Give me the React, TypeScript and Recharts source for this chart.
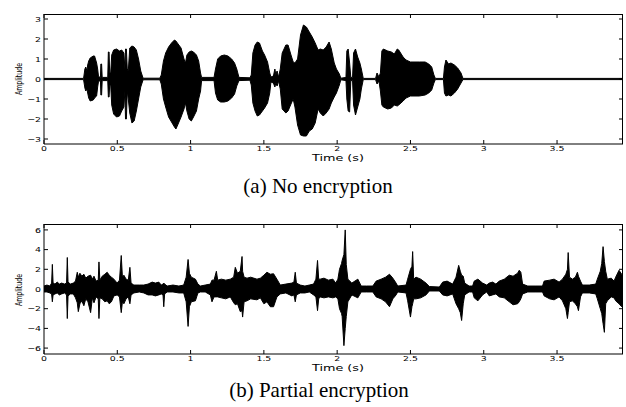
import React from 'react';
import { ComposedChart, Area, XAxis, YAxis } from 'recharts';

// envelope of the waveform (upper / lower amplitude)
const noEncTime = [
  0, 0.27, 0.279, 0.285, 0.293, 0.298, 0.305, 0.315, 0.336, 0.345,
  0.359, 0.366, 0.372, 0.385, 0.388, 0.393, 0.397, 0.435, 0.439, 0.444,
  0.448, 0.455, 0.462, 0.475, 0.495, 0.515, 0.53, 0.545, 0.552, 0.556,
  0.562, 0.568, 0.575, 0.585, 0.6, 0.615, 0.63, 0.645, 0.66, 0.676,
  0.79, 0.8, 0.815, 0.83, 0.85, 0.87, 0.89, 0.9, 0.915, 0.935,
  0.955, 0.965, 0.975, 0.99, 1.005, 1.02, 1.04, 1.055, 1.068, 1.075,
  1.16, 1.17, 1.185, 1.205, 1.23, 1.255, 1.28, 1.3, 1.315, 1.33,
  1.405, 1.414, 1.425, 1.44, 1.455, 1.47, 1.49, 1.505, 1.525, 1.54,
  1.548, 1.565, 1.575, 1.582, 1.59, 1.6, 1.612, 1.625, 1.65, 1.665,
  1.685, 1.7, 1.712, 1.73, 1.75, 1.77, 1.79, 1.81, 1.83, 1.85,
  1.87, 1.885, 1.905, 1.925, 1.945, 1.96, 1.98, 1.995, 2.015, 2.025,
  2.06, 2.066, 2.075, 2.085, 2.093, 2.105, 2.112, 2.125, 2.14, 2.155,
  2.165, 2.178, 2.262, 2.272, 2.285, 2.295, 2.305, 2.315, 2.345, 2.37,
  2.39, 2.41, 2.42, 2.45, 2.47, 2.5, 2.56, 2.6, 2.625, 2.645,
  2.66, 2.67, 2.725, 2.732, 2.742, 2.76, 2.776, 2.8, 2.822, 2.845,
  2.858, 3.95,
];
const noEncHi = [
  0.03, 0.03, 0.5, 0.6, 0.4, 0.7, 0.9, 1.05, 1.15, 1.15,
  0.8, 0.5, 0.12, 0.08, 0.75, 0.75, 0.08, 0.08, 1.35, 1.35,
  0.3, 0.3, 1.2, 1.45, 1.5, 1.4, 1.45, 1.3, 0.5, 1.5,
  1.5, 0.5, 0.4, 1.55, 1.65, 1.6, 1.45, 1.0, 0.4, 0.04,
  0.04, 0.2, 0.9, 1.3, 1.6, 1.8, 1.95, 1.9, 1.75, 1.55,
  1.0, 0.8, 1.2, 1.35, 1.4, 1.35, 1.2, 0.9, 0.3, 0.08,
  0.08, 0.5, 1.0, 1.15, 1.2, 1.15, 1.0, 0.8, 0.5, 0.08,
  0.06, 0.2, 1.3, 1.7, 1.85, 1.8, 1.4, 1.2, 0.85, 0.3,
  0.1, 0.15, 0.5, 0.2, 0.4, 0.1, 0.5, 1.3, 1.7, 1.7,
  1.2, 0.85, 0.8, 1.0, 2.2, 2.7, 2.6, 2.35, 2.1, 1.8,
  1.45, 1.5, 1.45, 1.6, 1.85, 1.5, 0.8, 0.5, 0.25, 0.04,
  0.08, 1.4, 1.5, 0.8, 0.08, 0.08, 1.3, 1.5, 1.1, 0.8,
  0.5, 0.03, 0.03, 0.3, 0.1, 0.3, 1.4, 1.5, 1.4, 1.35,
  1.25, 1.5, 1.45, 1.1, 0.95, 0.85, 0.85, 0.85, 0.75, 0.6,
  0.2, 0.03, 0.03, 0.6, 0.95, 0.75, 0.8, 0.7, 0.55, 0.3,
  0.03, 0.03,
];
const noEncLo = [
  -0.03, -0.03, -0.45, -0.6, -0.5, -0.7, -0.95, -1.1, -1.05, -0.95,
  -0.85, -0.4, -0.12, -0.08, -0.8, -0.8, -0.08, -0.08, -0.9, -0.9,
  -0.3, -0.3, -1.3, -1.75, -1.9, -1.85, -1.6, -1.4, -0.6, -2.0,
  -2.0, -0.6, -1.0, -1.7, -2.2, -2.1, -1.6, -1.0, -0.4, -0.04,
  -0.04, -0.25, -1.0, -1.4, -1.9, -2.15, -2.4, -2.5, -2.25, -1.9,
  -1.5, -1.2, -1.6, -2.0, -2.1, -1.9, -1.6, -1.0, -0.6, -0.08,
  -0.08, -0.7, -1.05, -1.15, -1.15, -1.1, -0.95, -0.75, -0.35, -0.08,
  -0.06, -0.3, -1.2, -1.6, -1.85, -1.8, -1.6, -1.45, -1.2, -0.7,
  -0.15, -0.2, -0.4, -0.2, -0.35, -0.1, -0.5, -1.5, -1.7, -1.6,
  -1.25, -1.0, -1.4, -2.3, -2.8, -2.85, -2.85, -2.6, -2.5, -2.2,
  -1.5, -1.7, -1.85, -1.7, -1.5, -1.2, -0.9, -0.7, -0.3, -0.04,
  -0.08, -1.0, -1.6, -1.65, -0.08, -0.08, -1.3, -1.8, -1.4, -1.0,
  -0.5, -0.03, -0.03, -0.25, -0.1, -0.6, -1.3, -1.4, -1.5, -1.45,
  -1.3, -1.35, -1.3, -1.1, -0.95, -0.85, -0.85, -0.8, -0.7, -0.55,
  -0.2, -0.03, -0.03, -0.7, -0.85, -0.8, -0.85, -0.7, -0.5, -0.2,
  -0.03, -0.03,
];

const partEncTime = [
  0, 0.02, 0.04, 0.052, 0.057, 0.062, 0.075, 0.09, 0.105, 0.12,
  0.14, 0.154, 0.159, 0.164, 0.18, 0.2, 0.215, 0.227, 0.234, 0.245,
  0.258, 0.272, 0.285, 0.3, 0.318, 0.33, 0.341, 0.355, 0.37, 0.375,
  0.381, 0.397, 0.415, 0.431, 0.445, 0.46, 0.477, 0.499, 0.515, 0.527,
  0.535, 0.545, 0.56, 0.575, 0.586, 0.594, 0.613, 0.65, 0.681, 0.71,
  0.738, 0.76, 0.783, 0.8, 0.812, 0.817, 0.823, 0.84, 0.88, 0.92,
  0.953, 0.97, 0.983, 0.992, 1.005, 1.033, 1.05, 1.067, 1.1, 1.135,
  1.146, 1.16, 1.176, 1.185, 1.21, 1.24, 1.271, 1.294, 1.305, 1.32,
  1.339, 1.351, 1.355, 1.365, 1.385, 1.41, 1.453, 1.476, 1.5, 1.521,
  1.544, 1.566, 1.589, 1.612, 1.65, 1.691, 1.705, 1.714, 1.722, 1.748,
  1.78, 1.81, 1.839, 1.855, 1.866, 1.874, 1.884, 1.91, 1.94, 1.971,
  1.99, 2.005, 2.016, 2.03, 2.034, 2.046, 2.055, 2.062, 2.073, 2.1,
  2.141, 2.164, 2.2, 2.243, 2.266, 2.3, 2.33, 2.357, 2.38, 2.402,
  2.413, 2.47, 2.481, 2.5, 2.51, 2.515, 2.522, 2.538, 2.57, 2.606,
  2.629, 2.697, 2.72, 2.75, 2.788, 2.811, 2.829, 2.84, 2.849, 2.86,
  2.87, 2.9, 2.924, 2.935, 2.96, 2.992, 3.02, 3.038, 3.06, 3.083,
  3.106, 3.14, 3.174, 3.2, 3.231, 3.242, 3.253, 3.265, 3.3, 3.35,
  3.401, 3.412, 3.45, 3.48, 3.514, 3.537, 3.56, 3.571, 3.576, 3.585,
  3.605, 3.625, 3.639, 3.646, 3.66, 3.673, 3.72, 3.764, 3.775, 3.795,
  3.805, 3.814, 3.823, 3.832, 3.843, 3.87, 3.889, 3.9, 3.923, 3.941, 3.95,
];
const partEncHi = [
  0.3, 0.4, 0.3, 0.6, 2.5, 0.6, 0.5, 0.7, 0.5, 0.6,
  0.5, 0.6, 3.2, 0.7, 0.5, 0.6, 0.8, 1.7, 1.2, 1.6,
  1.3, 1.5, 1.1, 1.3, 1.4, 1.0, 1.3, 0.8, 0.9, 2.75,
  0.9, 1.3, 1.5, 1.7, 1.4, 1.2, 1.0, 0.6, 0.9, 3.4,
  1.2, 1.4, 1.0, 0.9, 2.2, 0.6, 0.4, 0.4, 0.4, 0.5,
  0.7, 0.6, 0.7, 0.4, 0.5, 0.6, 0.5, 0.3, 0.4, 0.3,
  0.4, 1.2, 3.0, 1.6, 1.2, 1.0, 0.5, 0.3, 0.4, 0.5,
  0.9, 0.9, 1.8, 0.9, 1.0, 0.9, 1.0, 1.2, 2.2, 1.6,
  1.8, 3.3, 1.8, 1.2, 1.1, 1.2, 1.0, 1.1, 1.4, 1.7,
  1.5, 1.55, 1.0, 0.4, 0.5, 0.6, 0.7, 1.7, 0.6, 0.4,
  0.3, 0.4, 0.5, 1.0, 2.9, 1.0, 1.0, 1.1, 0.9, 1.0,
  0.6, 1.0, 2.0, 2.6, 2.9, 3.5, 6.0, 2.5, 1.0, 0.6,
  1.0, 0.3, 0.3, 0.3, 0.8, 1.0, 1.2, 1.5, 1.1, 0.6,
  0.3, 0.4, 1.0, 2.0, 2.3, 3.8, 1.0, 1.2, 1.0, 0.6,
  0.25, 0.2, 0.7, 0.8, 0.5, 1.2, 2.4, 1.8, 1.4, 1.3,
  0.6, 0.3, 0.3, 0.8, 1.0, 0.6, 0.4, 0.6, 0.7, 0.5,
  0.8, 1.0, 1.4, 1.3, 1.6, 1.9, 1.7, 0.5, 0.3, 0.3,
  0.3, 0.8, 0.9, 1.0, 0.7, 1.0, 1.5, 2.0, 3.7, 1.2,
  1.0, 1.2, 1.7, 1.3, 0.8, 0.4, 0.4, 0.5, 1.0, 1.8,
  2.6, 4.3, 2.8, 1.8, 1.0, 1.1, 0.8, 1.2, 1.9, 1.5, 1.2,
];
const partEncLo = [
  -0.3, -0.3, -0.4, -0.5, -1.3, -0.6, -0.5, -0.4, -0.6, -0.5,
  -0.4, -0.6, -3.0, -0.7, -0.5, -0.5, -0.9, -1.4, -2.3, -1.5,
  -1.2, -1.7, -1.0, -1.3, -2.4, -0.9, -1.4, -0.8, -1.0, -3.0,
  -0.9, -1.0, -1.3, -1.2, -1.5, -1.3, -0.7, -0.6, -0.8, -2.4,
  -1.3, -1.5, -1.0, -0.8, -1.5, -0.6, -0.4, -0.3, -0.4, -0.6,
  -0.6, -0.7, -0.6, -0.5, -0.6, -1.8, -0.5, -0.3, -0.3, -0.4,
  -0.4, -1.3, -3.8, -1.8, -1.3, -1.2, -0.4, -0.3, -0.3, -0.6,
  -1.3, -0.8, -0.8, -0.8, -0.9, -1.0, -0.8, -1.4, -1.6, -1.5,
  -2.3, -2.2, -2.85, -1.3, -1.2, -1.0, -1.1, -0.9, -1.5, -1.3,
  -1.8, -1.8, -0.8, -0.5, -0.4, -0.7, -0.6, -1.3, -0.6, -0.4,
  -0.4, -0.3, -0.6, -0.8, -2.2, -1.0, -0.8, -0.9, -0.8, -0.9,
  -0.8, -1.0, -2.0, -2.5, -2.8, -5.75, -4.0, -2.8, -1.3, -0.6,
  -0.9, -0.3, -0.3, -0.3, -0.8, -1.0, -1.3, -1.8, -1.0, -0.6,
  -0.3, -0.4, -1.2, -2.85, -1.8, -1.5, -1.0, -1.0, -0.9, -0.6,
  -0.2, -0.2, -0.6, -0.7, -0.5, -1.5, -2.0, -2.4, -3.2, -1.5,
  -0.6, -0.3, -0.3, -0.9, -1.2, -0.6, -0.3, -0.7, -0.6, -0.5,
  -0.8, -0.9, -1.3, -1.6, -1.5, -1.3, -1.0, -0.5, -0.3, -0.3,
  -0.3, -0.7, -1.0, -1.1, -0.8, -1.2, -2.0, -3.0, -2.4, -1.3,
  -1.2, -1.5, -1.8, -2.2, -0.8, -0.4, -0.4, -0.5, -1.0, -2.0,
  -2.5, -3.5, -4.4, -1.5, -1.2, -0.8, -0.9, -1.2, -1.5, -1.8, -1.0,
];

const timeTicks = [0, 0.5, 1, 1.5, 2, 2.5, 3, 3.5];
const noEncAmpTicks = [-3, -2, -1, 0, 1, 2, 3];
const partEncAmpTicks = [-6, -4, -2, 0, 2, 4, 6];
const T_MAX = 3.95;

const noEncData = noEncTime.map((t, i) => ({ t, hi: noEncHi[i], lo: noEncLo[i] }));
const partEncData = partEncTime.map((t, i) => ({ t, hi: partEncHi[i], lo: partEncLo[i] }));

const TICK_FONT = 'DejaVu Sans, sans-serif';
const fmt = (v: number) => (v < 0 ? '\u2212' + Math.abs(v) : String(v));

const W = 626;
const H = 165;
const MARGIN = { top: 14, right: 3, left: 0, bottom: 0 };
const Y_AXIS_W = 44;
const X_AXIS_H = 21;
const PLOT_W = W - MARGIN.left - MARGIN.right - Y_AXIS_W;
const PLOT_H = H - MARGIN.top - MARGIN.bottom - X_AXIS_H;

// matlab style: ticks point into the box on all four sides, labels outside
const TickText = ({ x, y, anchor, value }: any) => (
  <text
    transform={`translate(${x},${y}) scale(1.25,1)`}
    textAnchor={anchor} fontSize={7.5} fontFamily={TICK_FONT} fill="#000"
  >
    {fmt(value)}
  </text>
);
const BottomTick = (p: any) => (
  <g>
    <path d={`M${p.x},${p.y}V${p.y - 4}M${p.x},${p.y - PLOT_H}V${p.y - PLOT_H + 4}`} stroke="#000" fill="none" />
    <TickText x={p.x} y={p.y + 7.2} anchor="middle" value={p.payload.value} />
  </g>
);
const LeftTick = (p: any) => (
  <g>
    <path d={`M${p.x},${p.y}H${p.x + 4}M${p.x + PLOT_W},${p.y}H${p.x + PLOT_W - 4}`} stroke="#000" fill="none" />
    <TickText x={p.x - 3} y={p.y + 2.7} anchor="end" value={p.payload.value} />
  </g>
);

interface PanelProps {
  data: { t: number; hi: number; lo: number }[];
  yDomain: [number, number];
  yTicks: number[];
  top: number;
}

const Panel = ({ data, yDomain, yTicks, top }: PanelProps) => (
  <div style={{ position: 'absolute', left: 0, top, width: W, height: H }}>
    <ComposedChart width={W} height={H} data={data} margin={MARGIN} style={{ overflow: 'visible' }}>
      <XAxis
        dataKey="t" type="number" domain={[0, T_MAX]} ticks={timeTicks} interval={0}
        allowDataOverflow height={X_AXIS_H} tickSize={0} tickMargin={0} tickLine={false}
        axisLine={{ stroke: '#000' }} tick={(p: any) => <BottomTick {...p} />}
      />
      <YAxis
        type="number" domain={yDomain} ticks={yTicks} interval={0} allowDataOverflow
        width={Y_AXIS_W} tickSize={0} tickMargin={0} tickLine={false}
        axisLine={{ stroke: '#000' }} tick={(p: any) => <LeftTick {...p} />}
      />
      <Area
        type="linear" dataKey={(d: any) => [d.lo, d.hi]}
        stroke="#000" strokeWidth={1} fill="#000" fillOpacity={1}
        dot={false} activeDot={false} isAnimationActive={false}
      />
    </ComposedChart>
    {/* top and right sides of the axes box */}
    <div
      style={{
        position: 'absolute', left: MARGIN.left + Y_AXIS_W, top: MARGIN.top,
        width: PLOT_W, height: PLOT_H, boxSizing: 'border-box',
        borderTop: '1px solid #000', borderRight: '1px solid #000', pointerEvents: 'none',
      }}
    />
  </div>
);

export default function App() {
  return (
    <div style={{ position: 'absolute', left: 0, top: 0, width: 626, height: 407, background: '#fff' }}>
      <Panel data={noEncData} yDomain={[-3.25, 3.25]} yTicks={noEncAmpTicks} top={0} />
      <Panel data={partEncData} yDomain={[-6.6, 6.6]} yTicks={partEncAmpTicks} top={210} />
      <svg width={626} height={407} style={{ position: 'absolute', left: 0, top: 0, pointerEvents: 'none' }}>
        <text x={338} y={161} textAnchor="middle" fontSize={9.5} fontFamily={TICK_FONT} textLength={52} lengthAdjust="spacingAndGlyphs">Time (s)</text>
        <text x={338} y={370.5} textAnchor="middle" fontSize={9.5} fontFamily={TICK_FONT} textLength={52} lengthAdjust="spacingAndGlyphs">Time (s)</text>
        <text x={22} y={79} transform="rotate(-90 22 79)" textAnchor="middle" fontSize={9} fontFamily={TICK_FONT} textLength={32} lengthAdjust="spacingAndGlyphs">Amplitude</text>
        <text x={22} y={290} transform="rotate(-90 22 290)" textAnchor="middle" fontSize={9} fontFamily={TICK_FONT} textLength={32} lengthAdjust="spacingAndGlyphs">Amplitude</text>
        <text x={318} y={193} textAnchor="middle" fontSize={21} fontFamily="Liberation Serif, serif">(a) No encryption</text>
        <text x={319} y={397} textAnchor="middle" fontSize={21} fontFamily="Liberation Serif, serif">(b) Partial encryption</text>
      </svg>
    </div>
  );
}
